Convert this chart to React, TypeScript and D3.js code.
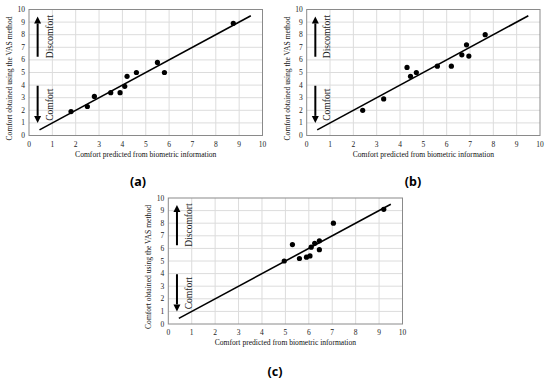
import React from 'react';
import * as d3 from 'd3';

// comfort predicted (x) vs comfort obtained with VAS (y)
const predictedA = [1.8, 2.5, 2.8, 3.5, 3.9, 4.1, 4.2, 4.6, 5.5, 5.8, 8.75];
const vasA = [1.9, 2.3, 3.1, 3.4, 3.4, 3.9, 4.7, 5.0, 5.8, 5.0, 8.9];

const predictedB = [2.4, 3.3, 4.3, 4.45, 4.7, 5.6, 6.2, 6.65, 6.85, 6.95, 7.65];
const vasB = [2.0, 2.9, 5.4, 4.7, 5.0, 5.5, 5.5, 6.4, 7.2, 6.3, 8.0];

const predictedC = [4.95, 5.3, 5.6, 5.9, 6.05, 6.1, 6.25, 6.45, 6.45, 7.05, 9.2];
const vasC = [5.0, 6.3, 5.2, 5.3, 5.4, 6.1, 6.4, 6.6, 5.9, 8.0, 9.1];

// y = x reference line ends
const lineStart = [0.45, 0.45];
const lineEnd = [9.5, 9.5];

const ticks = [0, 1, 2, 3, 4, 5, 6, 7, 8, 9, 10];
const captions = ['(a)', '(b)', '(c)'];

const xTitle = 'Comfort predicted from biometric information';
const yTitle = 'Comfort obtained using the VAS method';

const serif = '"Liberation Serif", "DejaVu Serif", serif';

type PanelProps = {
  xs: number[];
  ys: number[];
  left: number;
  right: number;
  top: number;
  bottom: number;
  caption: string;
  captionX: number;
  captionY: number;
};

const Arrow = ({ x, y1, y2 }: { x: number; y1: number; y2: number }) => {
  // y2 is the tip
  const dir = y2 < y1 ? 1 : -1;
  const head = 7;
  return (
    <g>
      <line x1={x} y1={y1} x2={x} y2={y2 + dir * head} stroke="#000" strokeWidth={2} />
      <path
        d={`M${x},${y2} L${x - 3.5},${y2 + dir * head} L${x + 3.5},${y2 + dir * head} Z`}
        fill="#000"
      />
    </g>
  );
};

const Panel = ({ xs, ys, left, right, top, bottom, caption, captionX, captionY }: PanelProps) => {
  const x = d3.scaleLinear().domain([0, 10]).range([left, right]);
  const y = d3.scaleLinear().domain([0, 10]).range([bottom, top]);
  const fit = d3.line<number[]>().x(d => x(d[0])).y(d => y(d[1]));

  return (
    <g>
      {ticks.slice(1, -1).map(t => (
        <line key={'gx' + t} x1={x(t)} x2={x(t)} y1={y(0)} y2={y(10)} stroke="#dcdcdc" strokeWidth={1} />
      ))}
      {ticks.slice(1, -1).map(t => (
        <line key={'gy' + t} x1={x(0)} x2={x(10)} y1={y(t)} y2={y(t)} stroke="#dcdcdc" strokeWidth={1} />
      ))}
      <rect x={left} y={top} width={right - left} height={bottom - top} fill="none" stroke="#8a8a8a" strokeWidth={1} />

      {ticks.map(t => (
        <text key={'tx' + t} x={x(t)} y={bottom + 11} textAnchor="middle" fontFamily={serif} fontSize={7.5} fill="#222">
          {t}
        </text>
      ))}
      {ticks.map(t => (
        <text key={'ty' + t} x={left - 4} y={y(t) + 2.5} textAnchor="end" fontFamily={serif} fontSize={7.5} fill="#222">
          {t}
        </text>
      ))}

      <text x={(left + right) / 2} y={bottom + 21} textAnchor="middle" fontFamily={serif} fontSize={7.6} fill="#111">
        {xTitle}
      </text>
      <text
        transform={`translate(${left - 17},${(top + bottom) / 2 + 6}) rotate(-90)`}
        textAnchor="middle"
        fontFamily={serif}
        fontSize={7.6}
        fill="#111"
      >
        {yTitle}
      </text>

      <Arrow x={x(0.37)} y1={y(6.25)} y2={y(9.45)} />
      <Arrow x={x(0.37)} y1={y(3.95)} y2={y(1.0)} />
      <text
        transform={`translate(${x(0.88) + 3},${y(7.85)}) rotate(-90)`}
        textAnchor="middle"
        fontFamily={serif}
        fontSize={9.5}
        fill="#222"
      >
        Discomfort
      </text>
      <text
        transform={`translate(${x(0.88) + 3},${y(2.45)}) rotate(-90)`}
        textAnchor="middle"
        fontFamily={serif}
        fontSize={9.5}
        fill="#222"
      >
        Comfort
      </text>

      <path d={fit([lineStart, lineEnd]) || ''} stroke="#000" strokeWidth={1.6} fill="none" />
      {xs.map((v, i) => (
        <circle key={i} cx={x(v)} cy={y(ys[i])} r={2.6} fill="#000" />
      ))}

      <text x={captionX} y={captionY} textAnchor="middle" fontFamily='"Noto Sans", "DejaVu Sans", sans-serif' fontSize={12.5} fontWeight="bold" fill="#000">
        {caption}
      </text>
    </g>
  );
};

const App = () => {
  return (
    <svg
      width={550}
      height={381}
      style={{ position: 'absolute', left: 0, top: 0, background: '#fff', display: 'block' }}
    >
      <Panel xs={predictedA} ys={vasA} left={29} right={262.5} top={9.5} bottom={135.5} caption={captions[0]} captionX={138} captionY={185.5} />
      <Panel xs={predictedB} ys={vasB} left={306.7} right={540} top={9.5} bottom={135.5} caption={captions[1]} captionX={413} captionY={185.5} />
      <Panel xs={predictedC} ys={vasC} left={168.3} right={402.5} top={198} bottom={324} caption={captions[2]} captionX={275} captionY={375.5} />
    </svg>
  );
};

export default App;
